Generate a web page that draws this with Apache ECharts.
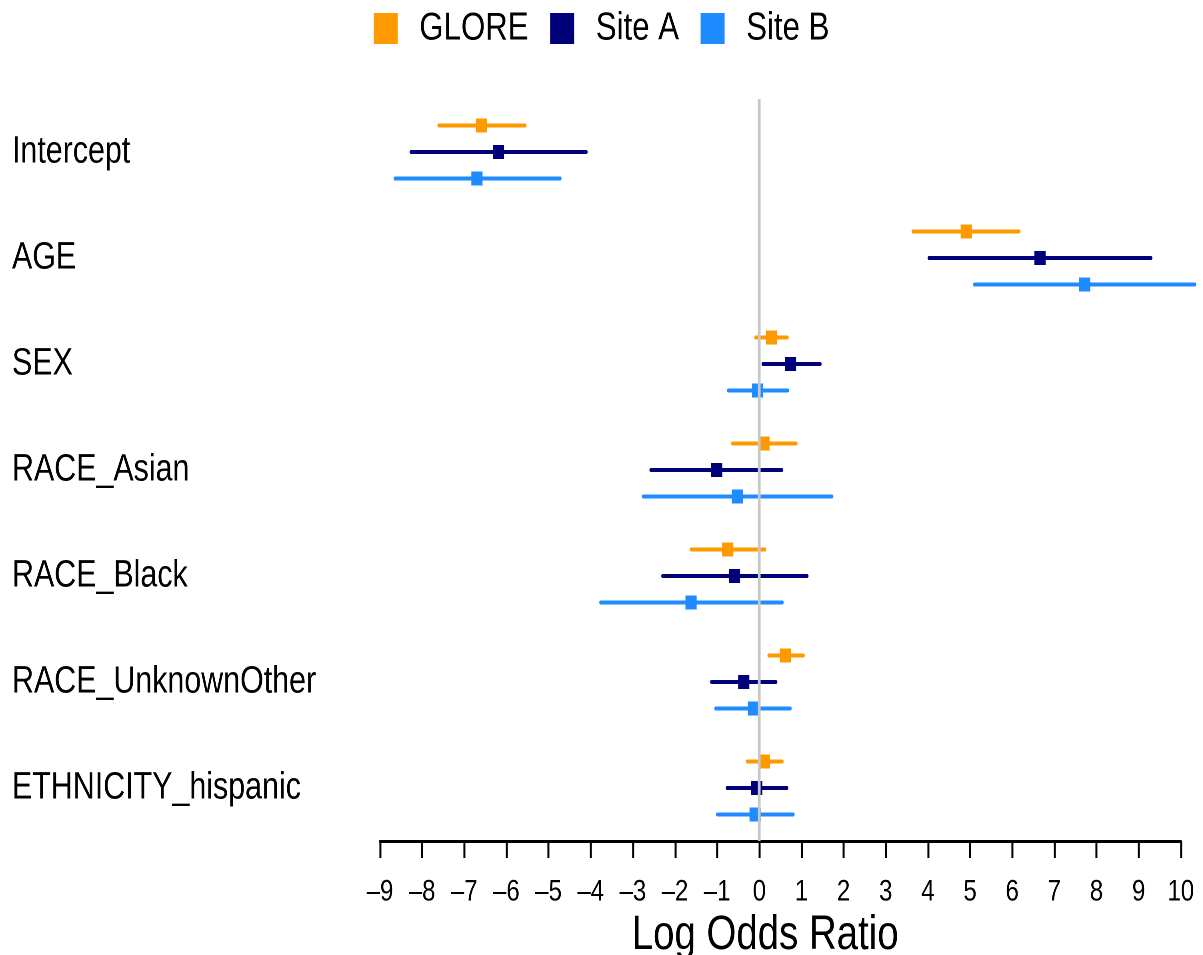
<!DOCTYPE html>
<html>
<head>
<meta charset="utf-8">
<script src="https://cdn.jsdelivr.net/npm/echarts@6/dist/echarts.min.js"></script>
<style>
  html, body { margin: 0; padding: 0; background: #fff; overflow: hidden; width: 1203px; height: 955px; }
  /* The figure is laid out wide and drawn horizontally condensed */
  #chart { width: 1504px; height: 955px; transform: scaleX(0.8); transform-origin: 0 0; }
</style>
</head>
<body>
<div id="chart"></div>
<script>
// Model terms, top to bottom
const categories = ['Intercept', 'AGE', 'SEX', 'RACE_Asian', 'RACE_Black', 'RACE_UnknownOther', 'ETHNICITY_hispanic'];

// Log odds ratio estimates with lower / upper interval bounds
const gloreEst = [-6.59, 4.91, 0.29, 0.11, -0.75, 0.62, 0.12];
const gloreLo  = [-7.60, 3.65, -0.08, -0.63, -1.61, 0.23, -0.28];
const gloreHi  = [-5.56, 6.16, 0.66, 0.87, 0.13, 1.04, 0.54];

const siteAEst = [-6.19, 6.66, 0.74, -1.01, -0.59, -0.37, -0.06];
const siteALo  = [-8.26, 4.03, 0.09, -2.57, -2.29, -1.13, -0.76];
const siteAHi  = [-4.11, 9.29, 1.44, 0.53, 1.13, 0.39, 0.65];

const siteBEst = [-6.70, 7.72, -0.04, -0.52, -1.62, -0.14, -0.10];
const siteBLo  = [-8.64, 5.11, -0.73, -2.75, -3.76, -1.03, -0.99];
const siteBHi  = [-4.73, 10.33, 0.67, 1.72, 0.54, 0.73, 0.80];

const seriesNames = ['GLORE', 'Site A', 'Site B'];
const seriesColors = ['#FF9900', '#000078', '#1E8CFF'];

const FONT = "'Liberation Sans', Arial, Helvetica, sans-serif";

function rows(est, lo, hi) {
  return categories.map((c, i) => [i, est[i], lo[i], hi[i]]);
}

// Offset of each study inside its row band (fraction of band height)
const offsets = [-0.25, 0, 0.25];

function makeRenderer(k) {
  return function (params, api) {
    const idx = api.value(0);
    const band = api.size([0, 1])[1];
    const dy = offsets[k] * band;
    const c = api.coord([api.value(1), idx]);
    const a = api.coord([api.value(2), idx]);
    const b = api.coord([api.value(3), idx]);
    const y = c[1] + dy;
    const color = seriesColors[k];
    return {
      type: 'group',
      children: [
        {
          type: 'line',
          shape: { x1: a[0], y1: y, x2: b[0], y2: y },
          style: { stroke: color, lineWidth: 4, lineCap: 'round' }
        },
        {
          type: 'rect',
          shape: { x: c[0] - 7, y: y - 7, width: 14, height: 14 },
          style: { fill: color }
        }
      ]
    };
  };
}

const datasets = [
  rows(gloreEst, gloreLo, gloreHi),
  rows(siteAEst, siteALo, siteAHi),
  rows(siteBEst, siteBLo, siteBHi)
];

const series = datasets.map((d, k) => ({
  name: seriesNames[k],
  type: 'custom',
  clip: false,
  renderItem: makeRenderer(k),
  itemStyle: { color: seriesColors[k] },
  encode: { x: [1, 2, 3], y: 0 },
  data: d,
  z: 3
}));

// Zero reference line
series.push({
  type: 'line',
  data: [],
  silent: true,
  z: 1,
  markLine: {
    silent: true,
    symbol: 'none',
    label: { show: false },
    lineStyle: { color: '#c8c8c8', width: 3.5, type: 'solid' },
    data: [{ xAxis: 0 }]
  }
});

const chart = echarts.init(document.getElementById('chart'), null, { renderer: 'canvas', devicePixelRatio: 2 });
chart.setOption({
  animation: false,
  backgroundColor: '#ffffff',
  legend: {
    data: seriesNames.map((n, k) => ({ name: n, itemStyle: { color: seriesColors[k] } })),
    top: 4,
    left: 'center',
    icon: 'rect',
    itemWidth: 30,
    itemHeight: 31,
    itemGap: 27,
    selectedMode: false,
    textStyle: { fontFamily: FONT, fontSize: 39, color: '#000', padding: [0, 0, 0, 22] }
  },
  grid: { left: 475, right: 28, top: 99, bottom: 114, outerBoundsMode: 'none', containLabel: false },
  xAxis: {
    type: 'value',
    min: -9,
    max: 10,
    interval: 1,
    splitLine: { show: false },
    axisLine: { show: true, onZero: false, lineStyle: { color: '#000', width: 3 } },
    axisTick: { show: true, length: 17, lineStyle: { color: '#000', width: 2.5 } },
    axisLabel: {
      margin: 36,
      fontFamily: FONT,
      fontSize: 30,
      color: '#000',
      formatter: v => String(v).replace('-', '\u2013')
    },
    name: 'Log Odds Ratio',
    nameLocation: 'middle',
    nameGap: 66,
    nameTextStyle: { fontFamily: FONT, fontSize: 48, color: '#000', padding: [0, 38, 0, 0] }
  },
  yAxis: {
    type: 'category',
    data: categories,
    inverse: true,
    axisLine: { show: false },
    axisTick: { show: false },
    splitLine: { show: false },
    axisLabel: {
      align: 'left',
      margin: 460,
      fontFamily: FONT,
      fontSize: 38,
      color: '#000'
    }
  },
  series: series
});
</script>
</body>
</html>
